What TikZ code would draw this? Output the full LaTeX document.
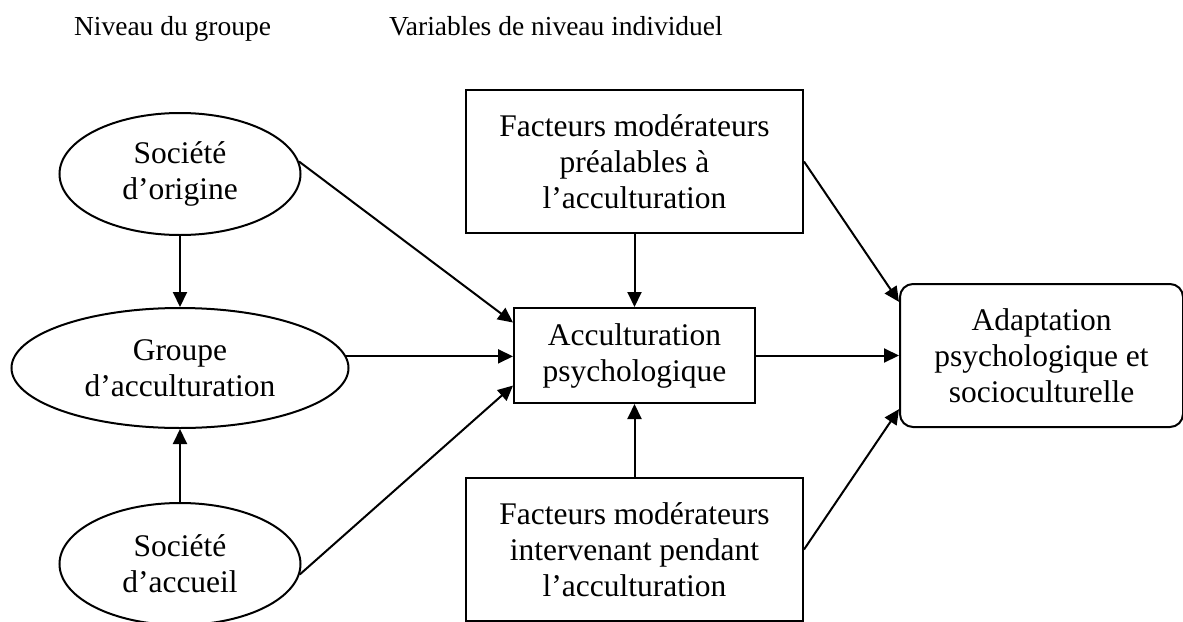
\documentclass[tikz,border=0pt]{standalone}
\usepackage{fontspec}
\setmainfont{Liberation Serif}
\usepackage{tikz}
\usetikzlibrary{shapes.geometric, arrows.meta, positioning, calc}

\begin{document}
\begin{tikzpicture}[
    x=0.5pt, y=-0.5pt,
    node distance=36.5pt,
    every node/.style={font=\fontsize{15.75}{18}\selectfont},
    oval/.style={ellipse, draw, line width=1pt, inner sep=1pt, minimum width=120.5pt, minimum height=61pt, align=center},
    box/.style={rectangle, draw, line width=1pt, minimum width=168.5pt, minimum height=71.5pt, align=center},
    rbox/.style={rectangle, draw, rounded corners=6.5pt, line width=1pt, minimum width=141.5pt, minimum height=71.5pt, align=center},
    titre/.style={anchor=base west, font=\fontsize{13.75}{16}\selectfont},
    arrow/.style={-{Triangle[length=7.5pt, width=7pt]}, line width=1pt}
]
\useasboundingbox (0,0) rectangle (1183,621);
\node (tgroupe) [titre] at (67,35) {Niveau du groupe};
\node (tindiv) [titre] at (382,35) {Variables de niveau individuel};
% niveau du groupe
\node (groupe) [oval, minimum width=168.5pt, minimum height=60pt] at (180,368) {Groupe\\d’acculturation};
\node (origine) [oval, above=35.5pt of groupe] {Société\\d’origine};
\node (accueil) [oval, below=36.5pt of groupe] {Société\\d’accueil};
% variables individuelles
\node (acc) [box, minimum width=120.5pt, minimum height=47.5pt] at (634.5,355.5) {Acculturation\\psychologique};
\node (prealable) [box, above=of acc] {Facteurs modérateurs\\préalables à\\l’acculturation};
\node (pendant) [box, below=of acc] {Facteurs modérateurs\\intervenant pendant\\l’acculturation};
\node (adapt) [rbox, right=71.5pt of acc] {Adaptation\\psychologique et\\socioculturelle};
\draw [arrow] (origine) -- (groupe); \draw [arrow] (accueil) -- (groupe);
\draw [arrow] (origine.6) -- ($(acc.north west)!0.16!(acc.south west)$);
\draw [arrow] (groupe.4) -- (groupe.4 -| acc.west);
\draw [arrow] (accueil.-5) -- ($(acc.north west)!0.81!(acc.south west)$);
\draw [arrow] (prealable) -- (acc); \draw [arrow] (pendant) -- (acc);
\draw [arrow] (prealable.east) -- ($(adapt.north west)!0.13!(adapt.south west)$);
\draw [arrow] (acc) -- (adapt);
\draw [arrow] (pendant.east) -- ($(adapt.north west)!0.87!(adapt.south west)$);
\end{tikzpicture}
\end{document}
